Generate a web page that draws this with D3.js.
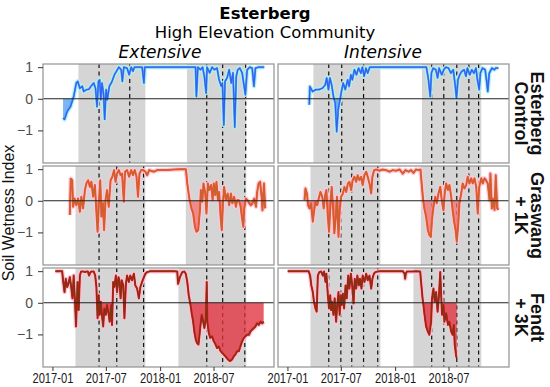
<!DOCTYPE html>
<html>
<head>
<meta charset="utf-8">
<script src="https://cdn.jsdelivr.net/npm/d3@7"></script>
<style>
  body { margin: 0; background: #fff; }
  svg { display: block; }
</style>
</head>
<body>
<div id="chart"></div>
<script>
// ---- data ----
var siteLabels = [["Esterberg", "Control"], ["Graswang", "+ 1K"], ["Fendt", "+ 3K"]];
var treatments = ["Extensive", "Intensive"];
var xTicks = ["2017-01-01", "2017-07-01", "2018-01-01", "2018-07-01"];
var yTicks = [-1, 0, 1];

// grey shading = growing season per site
var bandsEsterberg = [["2017-03-30", "2017-11-12"], ["2018-04-02", "2018-10-20"]];
var bandsGraswang = [["2017-03-20", "2017-11-12"], ["2018-03-29", "2018-10-20"]];
var bandsFendt = [["2017-03-20", "2017-11-12"], ["2018-03-04", "2018-10-20"]];

// dashed lines = cutting dates
var cutsEsterbergExt = ["2017-06-08", "2017-09-20", "2018-06-08", "2018-08-01", "2018-10-18"];
var cutsEsterbergInt = ["2017-05-21", "2017-07-04", "2017-09-16", "2018-05-05", "2018-06-15", "2018-07-29", "2018-09-08", "2018-10-11"];
var cutsExt = ["2017-06-08", "2017-08-07", "2017-11-06", "2018-06-08", "2018-08-01", "2018-10-15"];
var cutsInt = ["2017-05-21", "2017-07-01", "2017-08-07", "2017-09-16", "2017-11-03", "2018-05-05", "2018-06-15", "2018-07-29", "2018-09-08", "2018-10-11"];

var esterbergExt = [["2017-02-06",-0.61],["2017-02-11",-0.65],["2017-02-20",-0.4],["2017-03-03",-0.25],["2017-03-14",0.07],["2017-03-23",0.5],["2017-03-28",0.55],["2017-04-04",0.33],["2017-04-12",0.4],["2017-04-17",0.23],["2017-04-26",0.29],["2017-05-04",0.3],["2017-05-12",0.4],["2017-05-21",0.5],["2017-05-27",0.33],["2017-06-01",-0.25],["2017-06-06",0.55],["2017-06-10",0.6],["2017-06-14",-0.03],["2017-06-18",0.5],["2017-06-23",0.18],["2017-06-27",-0.65],["2017-07-02",0.29],["2017-07-06",-0.03],["2017-07-13",0.4],["2017-07-22",0.55],["2017-07-30",0.76],["2017-08-06",0.87],["2017-08-14",1],["2017-08-22",0.92],["2017-08-26",0.55],["2017-08-31",1],["2017-09-11",0.97],["2017-09-18",0.76],["2017-09-25",1],["2017-10-01",0.87],["2017-10-06",1],["2017-11-01",1],["2017-11-07",0.5],["2017-11-10",1],["2018-05-01",1],["2018-05-04",0.07],["2018-05-09",1],["2018-05-18",0.92],["2018-05-25",1],["2018-05-31",0.7],["2018-06-06",0.18],["2018-06-09",1],["2018-06-18",0.82],["2018-06-26",1],["2018-07-04",0.92],["2018-07-13",0.97],["2018-07-20",0.6],["2018-07-27",0.4],["2018-07-31",0.5],["2018-08-05",-0.83],["2018-08-09",0.55],["2018-08-16",0.66],["2018-08-23",0.92],["2018-08-30",0.5],["2018-09-05",0.82],["2018-09-11",-0.9],["2018-09-16",0.7],["2018-09-21",0.92],["2018-09-28",0.97],["2018-10-06",0.82],["2018-10-12",0.44],["2018-10-17",0.13],["2018-10-23",0.92],["2018-11-01",1],["2018-11-09",0.97],["2018-11-15",0.4],["2018-11-20",0.97],["2018-12-01",1],["2018-12-20",1]];

var esterbergInt = [["2017-03-16",-0.19],["2017-03-18",0.39],["2017-03-27",0.23],["2017-04-07",0.29],["2017-04-18",0.29],["2017-04-30",0.34],["2017-05-09",0.44],["2017-05-14",0.66],["2017-05-20",0.29],["2017-05-25",0.66],["2017-05-31",0.44],["2017-06-06",0.07],["2017-06-12",-0.14],["2017-06-17",-1.04],["2017-06-22",-0.35],["2017-06-28",-0.03],["2017-07-03",0.23],["2017-07-09",0.5],["2017-07-16",0.29],["2017-07-24",0.6],["2017-07-29",0.39],["2017-08-04",0.76],["2017-08-09",0.6],["2017-08-16",0.92],["2017-08-23",0.76],["2017-08-30",0.97],["2017-09-07",0.81],["2017-09-12",1],["2017-09-18",0.71],["2017-09-24",0.97],["2017-09-30",0.81],["2017-10-07",1],["2018-04-17",1],["2018-04-24",0.6],["2018-04-30",0.07],["2018-05-04",0.81],["2018-05-10",0.97],["2018-05-19",0.92],["2018-05-25",0.66],["2018-05-30",0.97],["2018-06-08",0.76],["2018-06-15",0.92],["2018-06-22",1],["2018-07-01",0.97],["2018-07-09",0.81],["2018-07-17",0.92],["2018-07-24",0.39],["2018-07-28",0.02],["2018-08-02",0.6],["2018-08-08",0.76],["2018-08-15",0.87],["2018-08-23",0.92],["2018-08-29",0.71],["2018-09-03",0.97],["2018-09-11",0.76],["2018-09-18",0.92],["2018-09-25",0.81],["2018-10-02",0.97],["2018-10-07",0.6],["2018-10-13",0.29],["2018-10-17",0.81],["2018-10-24",0.97],["2018-11-02",0.92],["2018-11-08",0.5],["2018-11-11",0.23],["2018-11-16",0.81],["2018-11-25",0.97],["2018-12-03",0.92],["2018-12-08",0.97],["2018-12-17",0.97]];

var graswangExt = [["2017-03-01",-0.45],["2017-03-04",0.7],["2017-03-09",0.65],["2017-03-12",-0.19],["2017-03-17",0.07],["2017-03-23",-0.14],["2017-03-29",0.07],["2017-04-04",-0.35],["2017-04-09",0.13],["2017-04-15",-0.24],["2017-04-21",0.34],["2017-04-26",0.55],["2017-05-02",0.65],["2017-05-08",0.44],["2017-05-13",0.6],["2017-05-19",0.13],["2017-05-25",0.5],["2017-05-29",-0.19],["2017-06-03",-0.98],["2017-06-07",-0.14],["2017-06-12",0.65],["2017-06-16",-0.5],["2017-06-21",-0.08],["2017-06-25",-0.93],["2017-06-30",0.02],["2017-07-05",0.34],["2017-07-11",-0.19],["2017-07-17",0.65],["2017-07-23",0.76],["2017-07-29",0.97],["2017-08-03",0.6],["2017-08-08",0.86],["2017-08-14",0.97],["2017-08-20",0.81],["2017-08-25",0.86],["2017-08-31",-0.03],["2017-09-04",0.92],["2017-09-11",0.97],["2017-09-18",0.76],["2017-09-25",0.97],["2017-10-01",0.81],["2017-10-07",0.97],["2017-10-13",0.76],["2017-10-18",0.13],["2017-10-23",0.86],["2017-10-29",0.97],["2017-11-04",0.97],["2017-11-12",0.92],["2017-11-18",0.81],["2017-11-25",0.97],["2017-12-01",0.95],["2017-12-11",0.92],["2017-12-22",0.97],["2018-01-02",0.97],["2018-01-25",0.97],["2018-02-16",0.99],["2018-03-11",1],["2018-03-29",1],["2018-03-31",0.86],["2018-04-03",0.55],["2018-04-10",0.07],["2018-04-17",-0.24],["2018-04-23",-0.4],["2018-04-29",-0.82],["2018-05-04",-0.98],["2018-05-10",-0.93],["2018-05-16",-0.29],["2018-05-19",0.34],["2018-05-24",-0.03],["2018-05-28",0.55],["2018-06-03",0.23],["2018-06-07",-0.4],["2018-06-12",0.55],["2018-06-17",0.34],["2018-06-23",0.5],["2018-06-28",0.02],["2018-07-02",0.55],["2018-07-07",0.18],["2018-07-11",0.6],["2018-07-16",0.02],["2018-07-20",0.28],["2018-07-25",-0.5],["2018-07-29",-0.93],["2018-08-02",-0.08],["2018-08-06",0.44],["2018-08-12",0.02],["2018-08-18",0.23],["2018-08-23",-0.14],["2018-08-29",0.23],["2018-09-03",-0.08],["2018-09-09",0.13],["2018-09-15",-0.19],["2018-09-19",0.02],["2018-09-25",0.02],["2018-10-01",-0.19],["2018-10-05",-0.5],["2018-10-10",-0.82],["2018-10-13",-0.24],["2018-10-19",0.07],["2018-10-24",0.02],["2018-10-30",-0.08],["2018-11-05",-0.14],["2018-11-10",-0.08],["2018-11-16",0.07],["2018-11-22",-0.19],["2018-11-26",0.28],["2018-12-01",0.55],["2018-12-06",0.6],["2018-12-11",0.13],["2018-12-14",-0.3],["2018-12-19",0.55],["2018-12-23",-0.24]];

var graswangInt = [["2017-02-28",0.02],["2017-03-03",0.39],["2017-03-08",0.23],["2017-03-12",-0.14],["2017-03-17",-0.24],["2017-03-22",-0.08],["2017-03-28",-0.66],["2017-04-01",-0.35],["2017-04-06",-0.03],["2017-04-12",-0.14],["2017-04-17",0.07],["2017-04-23",0.28],["2017-04-29",0.13],["2017-05-04",-0.24],["2017-05-09",0.18],["2017-05-13",0.34],["2017-05-18",-0.5],["2017-05-22",-0.98],["2017-05-27",-0.08],["2017-05-31",0.44],["2017-06-05",-0.3],["2017-06-09",-1.03],["2017-06-14",-0.5],["2017-06-18",0.13],["2017-06-23",-1.14],["2017-06-27",-0.3],["2017-07-02",0.13],["2017-07-08",0.23],["2017-07-13",0.44],["2017-07-19",0.28],["2017-07-25",0.55],["2017-07-30",0.6],["2017-08-05",0.34],["2017-08-10",0.65],["2017-08-16",0.76],["2017-08-22",0.6],["2017-08-27",0.81],["2017-09-02",0.65],["2017-09-08",0.76],["2017-09-13",0.5],["2017-09-19",0.81],["2017-09-25",0.92],["2017-09-30",0.76],["2017-10-06",0.55],["2017-10-12",0.23],["2017-10-16",0.76],["2017-10-22",0.97],["2017-10-29",0.99],["2017-11-09",0.95],["2017-11-20",0.99],["2017-12-01",0.97],["2017-12-13",0.92],["2017-12-24",0.97],["2018-01-04",0.95],["2018-01-16",0.99],["2018-01-27",0.86],["2018-02-05",0.97],["2018-02-16",0.92],["2018-02-24",0.97],["2018-03-04",0.88],["2018-03-13",0.99],["2018-03-22",0.97],["2018-03-28",0.99],["2018-04-01",0.55],["2018-04-06",0.02],["2018-04-10",-0.24],["2018-04-16",-0.5],["2018-04-22",-0.93],["2018-04-27",-1.08],["2018-05-02",-1.14],["2018-05-06",-0.6],["2018-05-11",-0.19],["2018-05-17",0.13],["2018-05-22",-0.08],["2018-05-28",0.23],["2018-06-03",0.44],["2018-06-08",0.02],["2018-06-14",-0.3],["2018-06-18",0.23],["2018-06-23",0.55],["2018-06-29",0.34],["2018-07-04",0.5],["2018-07-10",0.13],["2018-07-15",-0.3],["2018-07-20",-0.66],["2018-07-25",-0.93],["2018-07-29",-1.29],["2018-08-03",-0.72],["2018-08-07",-0.08],["2018-08-13",0.23],["2018-08-18",0.55],["2018-08-24",0.39],["2018-08-30",0.5],["2018-09-04",0.76],["2018-09-10",0.55],["2018-09-16",0.71],["2018-09-21",0.55],["2018-09-27",0.71],["2018-10-03",0.44],["2018-10-08",-0.4],["2018-10-13",0.44],["2018-10-20",0.71],["2018-10-25",0.55],["2018-10-31",0.71],["2018-11-05",0.65],["2018-11-11",0.55],["2018-11-17",0.02],["2018-11-20",0.86],["2018-11-25",-0.24],["2018-11-29",0.07],["2018-12-04",-0.29],["2018-12-08",0.81],["2018-12-13",-0.24],["2018-12-17",-0.29]];

var fendtExt = [["2017-01-11",1],["2017-01-28",1],["2017-02-03",1],["2017-02-06",0.71],["2017-02-11",0.34],["2017-02-15",0.76],["2017-02-20",0.5],["2017-02-24",0.6],["2017-03-01",0.81],["2017-03-05",0.55],["2017-03-10",0.14],["2017-03-14",0.86],["2017-03-19",-0.07],["2017-03-22",-0.75],["2017-03-27",0.66],["2017-03-31",-0.23],["2017-04-04",0.86],["2017-04-08",0.99],["2017-04-15",0.99],["2017-04-22",0.97],["2017-04-26",0.99],["2017-05-01",0.99],["2017-05-05",0.86],["2017-05-10",0.97],["2017-05-15",0.99],["2017-05-21",0.99],["2017-05-26",0.86],["2017-05-30",0.5],["2017-06-03",-0.49],["2017-06-07",0.24],["2017-06-10",-0.38],["2017-06-14",0.03],["2017-06-17",-0.33],["2017-06-22",-0.75],["2017-06-26",-0.18],["2017-07-01",-0.38],["2017-07-05",-0.07],["2017-07-10",-0.33],["2017-07-14",-0.6],["2017-07-19",-0.07],["2017-07-22",-0.7],["2017-07-26",0.66],["2017-07-30",0.5],["2017-08-04",0.86],["2017-08-08",0.34],["2017-08-13",0.81],["2017-08-16",0.71],["2017-08-20",0.14],["2017-08-24",0.71],["2017-08-29",0.55],["2017-09-02",-0.49],["2017-09-07",0.6],["2017-09-11",0.86],["2017-09-17",0.66],["2017-09-22",0.86],["2017-09-28",0.71],["2017-10-04",0.92],["2017-10-09",0.55],["2017-10-15",0.45],["2017-10-21",0.14],["2017-10-26",0.5],["2017-11-01",0.66],["2017-11-07",0.81],["2017-11-12",0.92],["2017-11-18",0.97],["2017-11-29",1],["2017-12-22",1],["2018-01-25",1],["2018-02-16",1],["2018-02-28",0.99],["2018-03-03",0.6],["2018-03-09",0.81],["2018-03-17",0.97],["2018-03-24",0.99],["2018-03-29",0.92],["2018-04-03",0.66],["2018-04-08",0.24],["2018-04-14",-0.07],["2018-04-18",-0.33],["2018-04-23",-0.6],["2018-04-27",-0.91],["2018-05-02",-1.17],["2018-05-06",-1.27],["2018-05-11",-1.32],["2018-05-14",-1.06],["2018-05-18",-0.7],["2018-05-22",-0.38],["2018-05-27",-0.6],["2018-05-31",-0.8],["2018-06-05",-0.49],["2018-06-08",0.66],["2018-06-10",-0.6],["2018-06-15",-0.96],["2018-06-20",-1.11],["2018-06-26",-1.06],["2018-07-02",-1.22],["2018-07-08",-1.32],["2018-07-13",-1.43],["2018-07-19",-1.38],["2018-07-25",-1.53],["2018-07-30",-1.58],["2018-08-05",-1.64],["2018-08-10",-1.69],["2018-08-16",-1.76],["2018-08-22",-1.82],["2018-08-27",-1.84],["2018-09-02",-1.79],["2018-09-08",-1.69],["2018-09-13",-1.64],["2018-09-19",-1.53],["2018-09-25",-1.53],["2018-09-30",-1.38],["2018-10-06",-1.22],["2018-10-12",-1.11],["2018-10-17",-1.06],["2018-10-23",-1.01],["2018-10-29",-1.01],["2018-11-03",-0.91],["2018-11-09",-0.85],["2018-11-15",-0.8],["2018-11-20",-0.75],["2018-11-26",-0.65],["2018-12-01",-0.7],["2018-12-07",-0.6],["2018-12-13",-0.65],["2018-12-18",-0.6]];

var fendtInt = [["2017-01-02",1],["2017-01-30",1],["2017-03-05",1],["2017-03-14",1],["2017-03-19",0.86],["2017-03-23",0.55],["2017-03-28",0.34],["2017-04-01",0.03],["2017-04-06",-0.18],["2017-04-10",-0.28],["2017-04-14",0.86],["2017-04-19",0.97],["2017-04-25",0.99],["2017-05-01",0.86],["2017-05-05",0.99],["2017-05-10",0.66],["2017-05-13",0.92],["2017-05-18",0.24],["2017-05-22",-0.18],["2017-05-26",0.24],["2017-05-29",-0.23],["2017-06-01",0.03],["2017-06-06",-0.38],["2017-06-10",0.14],["2017-06-15",-0.6],["2017-06-18",-0.18],["2017-06-23",0.34],["2017-06-27",-0.38],["2017-07-01",0.24],["2017-07-04",-0.07],["2017-07-08",0.29],["2017-07-12",-0.18],["2017-07-17",0.55],["2017-07-21",0.14],["2017-07-26",0.86],["2017-07-30",0.45],["2017-08-04",0.92],["2017-08-08",0.6],["2017-08-13",-0.02],["2017-08-17",0.76],["2017-08-22",0.45],["2017-08-26",0.86],["2017-08-31",0.55],["2017-09-04",0.76],["2017-09-09",0.45],["2017-09-13",0.86],["2017-09-19",0.66],["2017-09-25",0.92],["2017-09-30",0.71],["2017-10-06",0.86],["2017-10-12",0.45],["2017-10-16",0.76],["2017-10-21",0.92],["2017-10-26",0.97],["2017-11-03",0.99],["2017-11-09",1],["2017-12-13",1],["2018-01-27",1],["2018-02-02",0.92],["2018-02-04",0.76],["2018-02-06",0.92],["2018-02-10",0.99],["2018-03-02",0.99],["2018-03-13",1],["2018-03-27",0.99],["2018-03-30",0.66],["2018-04-04",0.14],["2018-04-07",-0.07],["2018-04-10",-0.33],["2018-04-16",-0.75],["2018-04-22",-0.91],["2018-04-27",-1.01],["2018-05-03",-0.6],["2018-05-06",0.14],["2018-05-11",0.45],["2018-05-15",0.03],["2018-05-20",0.34],["2018-05-25",-0.28],["2018-05-29",0.14],["2018-06-03",0.97],["2018-06-06",0.24],["2018-06-09",-0.38],["2018-06-14",-0.07],["2018-06-17",-0.6],["2018-06-23",-0.33],["2018-06-29",-0.7],["2018-07-04",-0.6],["2018-07-10",-0.91],["2018-07-15",-1.01],["2018-07-19",-0.7],["2018-07-22",-1.32],["2018-07-27",-1.69],["2018-07-29",-1.74]];

// ---- layout ----
var panelW = 231, panelH = 99;
var panelX = [43, 278];
var panelY = [64, 166, 268];

// colours per row: outer ribbon, inner ribbon, line, fill below zero
var rowStyle = [
    { halo: "#b2f3ec", mid: "#4f9ef6", line: "#3460f2", neg: "#4f9cf2", negOp: 0.75 },
    { halo: "#ffc8d8", mid: "#ff5236", line: "#c4642e", neg: "#f26c6c", negOp: 0.7 },
    { halo: "#ffc0d2", mid: "#e3141f", line: "#7c3413", neg: "#e2323f", negOp: 0.78 }
];

var rows = [
    { bands: bandsEsterberg, series: [esterbergExt, esterbergInt], cuts: [cutsEsterbergExt, cutsEsterbergInt] },
    { bands: bandsGraswang, series: [graswangExt, graswangInt], cuts: [cutsExt, cutsInt] },
    { bands: bandsFendt, series: [fendtExt, fendtInt], cuts: [cutsExt, cutsInt] }
];

var parse = d3.timeParse("%Y-%m-%d");

var svg = d3.select("#chart")
    .append("svg")
    .attr("width", 550)
    .attr("height", 387);

var x = d3.scaleTime()
    .domain([parse("2016-11-30"), parse("2019-01-22")])
    .range([0, panelW]);

var y = d3.scaleLinear()
    .domain([-2.03, 1.1])
    .range([panelH, 0]);

var line = d3.line()
    .x(function (d) { return x(parse(d[0])); })
    .y(function (d) { return y(d[1]); });

var negArea = d3.area()
    .x(function (d) { return x(parse(d[0])); })
    .y0(y(0))
    .y1(function (d) { return y(Math.min(d[1], 0)); });

rows.forEach(function (row, r) {
    var st = rowStyle[r];
    treatments.forEach(function (t, c) {
        var g = svg.append("g")
            .attr("transform", "translate(" + panelX[c] + "," + panelY[r] + ")");

        var clipId = "clip" + r + c;
        g.append("clipPath").attr("id", clipId)
            .append("rect").attr("width", panelW).attr("height", panelH);

        g.append("rect")
            .attr("width", panelW).attr("height", panelH)
            .attr("fill", "#fff");

        var inner = g.append("g").attr("clip-path", "url(#" + clipId + ")");

        inner.selectAll(".band")
            .data(row.bands)
            .enter()
            .append("rect")
            .attr("x", function (d) { return x(parse(d[0])); })
            .attr("width", function (d) { return x(parse(d[1])) - x(parse(d[0])); })
            .attr("y", 0)
            .attr("height", panelH)
            .attr("fill", "#d5d5d5");

        inner.selectAll(".cut")
            .data(row.cuts[c])
            .enter()
            .append("line")
            .attr("x1", function (d) { return x(parse(d)); })
            .attr("x2", function (d) { return x(parse(d)); })
            .attr("y1", 0)
            .attr("y2", panelH)
            .attr("stroke", "#111")
            .attr("stroke-width", 1.2)
            .attr("stroke-dasharray", "4,3.5");

        var data = row.series[c];

        inner.append("path")
            .datum(data)
            .attr("d", line)
            .attr("fill", "none")
            .attr("stroke", st.halo)
            .attr("stroke-width", 4.5)
            .attr("stroke-linejoin", "round")
            .attr("opacity", 0.9);

        inner.append("path")
            .datum(data)
            .attr("d", negArea)
            .attr("fill", st.neg)
            .attr("opacity", st.negOp);

        inner.append("path")
            .datum(data)
            .attr("d", line)
            .attr("fill", "none")
            .attr("stroke", st.mid)
            .attr("stroke-width", 2)
            .attr("stroke-linejoin", "round");

        inner.append("path")
            .datum(data)
            .attr("d", line)
            .attr("fill", "none")
            .attr("stroke", st.line)
            .attr("stroke-width", 1.2)
            .attr("stroke-linejoin", "round");

        g.append("line")
            .attr("x1", 0).attr("x2", panelW)
            .attr("y1", y(0)).attr("y2", y(0))
            .attr("stroke", "#222")
            .attr("stroke-width", 1.1);

        g.append("rect")
            .attr("width", panelW).attr("height", panelH)
            .attr("fill", "none")
            .attr("stroke", "#9a9a9a")
            .attr("stroke-width", 1.3);

        if (c == 0) {
            var ya = g.append("g")
                .call(d3.axisLeft(y)
                    .tickValues(yTicks)
                    .tickSize(5)
                    .tickPadding(5)
                    .tickFormat(function (d) { return d < 0 ? "\u2212" + Math.abs(d) : d; }));
            ya.select(".domain").remove();
            ya.selectAll("line").attr("stroke", "#333");
            ya.selectAll("text")
                .attr("fill", "#4d4d4d")
                .style("font-family", "Liberation Sans, Arial, sans-serif")
                .style("font-size", "14px");
        }

        if (r == 2) {
            var xa = g.append("g")
                .attr("transform", "translate(0," + panelH + ")")
                .call(d3.axisBottom(x)
                    .tickValues(xTicks.map(parse))
                    .tickSize(4)
                    .tickPadding(2)
                    .tickFormat(d3.timeFormat("%Y-%m")));
            xa.select(".domain").remove();
            xa.selectAll("line").attr("stroke", "#333");
            xa.selectAll("text")
                .attr("fill", "#1a1a1a")
                .attr("textLength", 41)
                .attr("lengthAdjust", "spacingAndGlyphs")
                .style("font-family", "Liberation Sans, Arial, sans-serif")
                .style("font-size", "14px");
        }
    });

    // strip label on the right
    var lab = svg.append("text")
        .attr("transform", "translate(531," + (panelY[r] + panelH / 2) + ") rotate(90)")
        .attr("text-anchor", "middle")
        .style("font-family", "Liberation Sans, Arial, sans-serif")
        .style("font-weight", "bold")
        .style("font-size", "18px")
        .attr("fill", "#111");
    siteLabels[r].forEach(function (s, i) {
        lab.append("tspan")
            .attr("x", 0)
            .attr("dy", i == 0 ? 0 : 16.5)
            .text(s);
    });
});

// titles
svg.append("text")
    .attr("x", 265).attr("y", 19)
    .attr("text-anchor", "middle")
    .style("font-family", "DejaVu Sans, sans-serif")
    .style("font-weight", "bold")
    .style("font-size", "16.5px")
    .text("Esterberg");

svg.append("text")
    .attr("x", 265).attr("y", 37.5)
    .attr("text-anchor", "middle")
    .style("font-family", "DejaVu Sans, sans-serif")
    .style("font-size", "16.5px")
    .text("High Elevation Community");

var colTitleX = [160, 383];
treatments.forEach(function (t, c) {
    svg.append("text")
        .attr("x", colTitleX[c]).attr("y", 58)
        .attr("text-anchor", "middle")
        .style("font-family", "DejaVu Sans, sans-serif")
        .style("font-style", "italic")
        .style("font-size", "17px")
        .text(t);
});

svg.append("text")
    .attr("transform", "translate(14,213) rotate(-90)")
    .attr("text-anchor", "middle")
    .style("font-family", "Liberation Sans, Arial, sans-serif")
    .style("font-size", "16px")
    .attr("fill", "#111")
    .text("Soil Wetness Index");
</script>
</body>
</html>
